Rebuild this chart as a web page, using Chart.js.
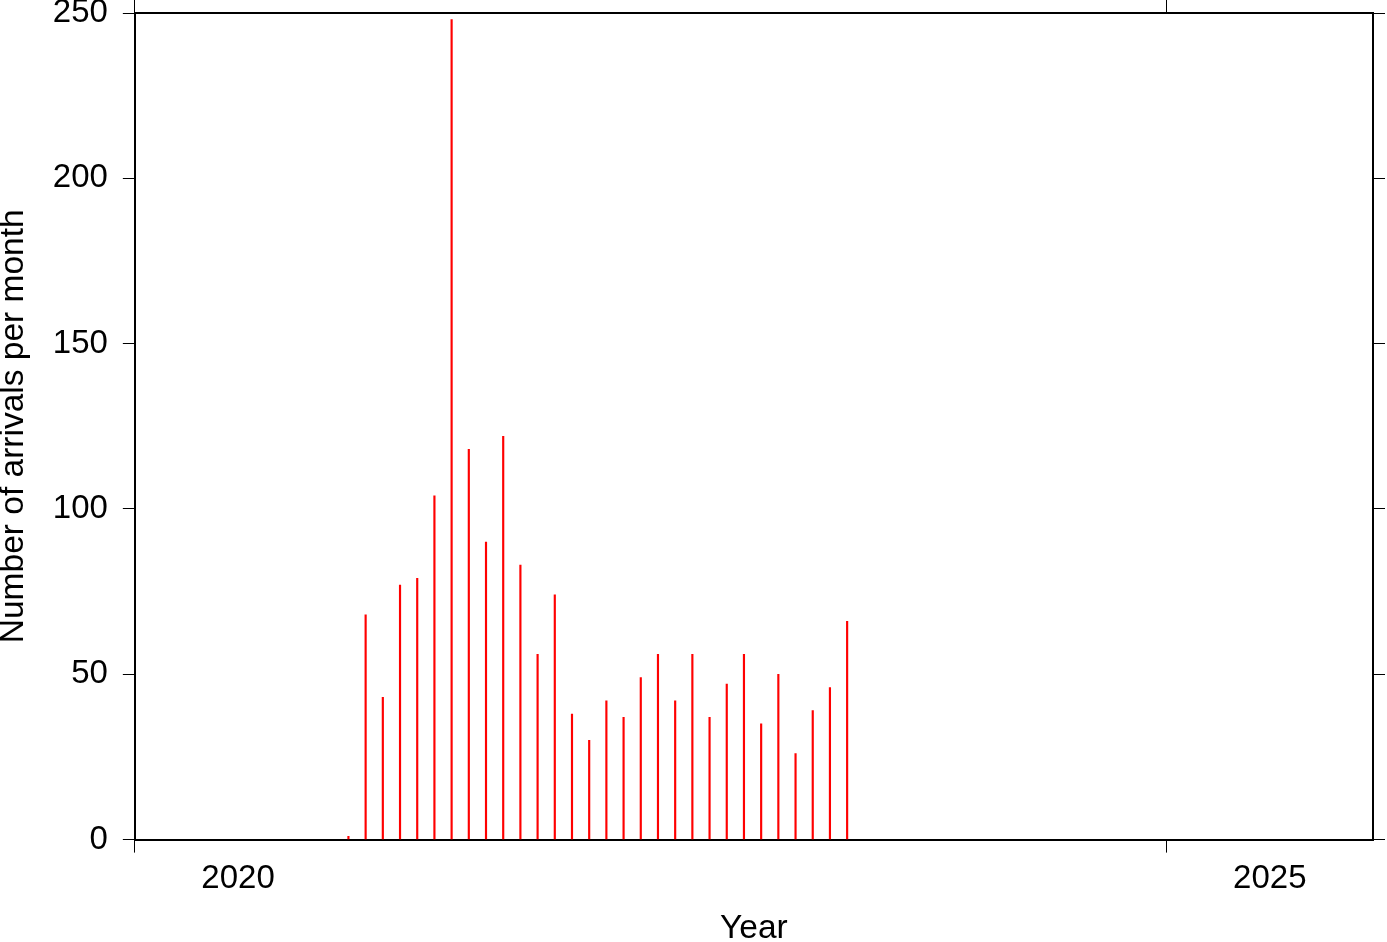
<!DOCTYPE html>
<html>
<head>
<meta charset="utf-8">
<script src="https://cdn.jsdelivr.net/npm/chart.js@4.4.1/dist/chart.umd.min.js"></script>
<style>
  html, body { margin: 0; padding: 0; background: #fff; }
  #wrap { width: 1387px; height: 942px; }
</style>
</head>
<body>
<div id="wrap"><canvas id="arrivals"></canvas></div>
<script>
// Mois (AAAA-MM) et nombre d'arrivées
const months = [
  '2021-01', '2021-02', '2021-03', '2021-04', '2021-05', '2021-06',
  '2021-07', '2021-08', '2021-09', '2021-10', '2021-11', '2021-12',
  '2022-01', '2022-02', '2022-03', '2022-04', '2022-05', '2022-06',
  '2022-07', '2022-08', '2022-09', '2022-10', '2022-11', '2022-12',
  '2023-01', '2023-02', '2023-03', '2023-04', '2023-05', '2023-06'
];
const arrivals = [
  1, 68, 43, 77, 79, 104,
  248, 118, 90, 122, 83, 56,
  74, 38, 30, 42, 37, 49,
  56, 42, 56, 37, 47, 56,
  35, 50, 26, 39, 46, 66
];
const yearTicks = [2020, 2025];   // traits de graduation
const yearLabels = [2020, 2025];  // libellés, centrés sur l'année
const yTicks = [0, 50, 100, 150, 200, 250];

const FONT = "'Liberation Sans', Helvetica, Arial, sans-serif";

// mois -> année décimale (barre vers le milieu du mois)
function toYear(m) {
  const [y, mo] = m.split('-').map(Number);
  return y + (mo - 1 + 0.42) / 12;
}
const points = months.map((m, i) => ({ x: toYear(m), y: arrivals[i] }));

const xTickValues = yearTicks.concat(yearLabels.map(y => y + 0.5)).sort((a, b) => a - b);

const tickMark = ctx => (ctx.tick && Number.isInteger(ctx.tick.value)) ? '#000' : 'rgba(0,0,0,0)';

// pas de marge verticale ajoutée par les libellés de l'axe y
const noPad = s => { s.paddingTop = 0; s.paddingBottom = 0; };

new Chart(document.getElementById('arrivals'), {
  type: 'bar',
  data: {
    datasets: [{
      data: points,
      backgroundColor: '#ff0000',
      borderWidth: 0,
      barThickness: 1.5
    }]
  },
  options: {
    responsive: true,
    maintainAspectRatio: false,
    animation: false,
    layout: { padding: { left: 0, right: 2, top: 0, bottom: 0 } },
    plugins: { legend: { display: false }, tooltip: { enabled: false } },
    scales: {
      x: {
        type: 'linear',
        position: 'bottom',
        min: 2020,
        max: 2026,
        offset: false,
        afterBuildTicks: s => { s.ticks = xTickValues.map(v => ({ value: v })); },
        ticks: {
          autoSkip: false,
          maxRotation: 0,
          padding: 7,
          color: '#000',
          font: { family: FONT, size: 33, lineHeight: 1.2 },
          callback: v => Number.isInteger(v) ? '' : String(Math.floor(v))
        },
        grid: { offset: false, drawOnChartArea: false, drawTicks: true, tickLength: 13, tickColor: tickMark, lineWidth: 1 },
        border: { display: true, color: '#000', width: 2 },
        title: {
          display: true,
          text: 'Year',
          color: '#000',
          font: { family: FONT, size: 33.5, lineHeight: 0.8 },
          padding: { top: 9, bottom: 0 }
        }
      },
      x2: {
        type: 'linear',
        position: 'top',
        min: 2020,
        max: 2026,
        offset: false,
        afterBuildTicks: s => { s.ticks = yearTicks.map(v => ({ value: v })); },
        ticks: { display: false },
        grid: { offset: false, drawOnChartArea: false, drawTicks: true, tickLength: 13, tickColor: '#000', lineWidth: 1 },
        border: { display: true, color: '#000', width: 2 }
      },
      y: {
        position: 'left',
        min: 0,
        max: 250,
        afterBuildTicks: s => { s.ticks = yTicks.map(v => ({ value: v })); },
        afterFit: noPad,
        ticks: {
          padding: 15,
          color: '#000',
          font: { family: FONT, size: 33, lineHeight: 0.8 }
        },
        grid: { drawOnChartArea: false, drawTicks: true, tickLength: 12, tickColor: '#000', lineWidth: 1 },
        border: { display: true, color: '#000', width: 2 },
        title: {
          display: true,
          text: 'Number of arrivals per month',
          color: '#000',
          font: { family: FONT, size: 33.5, lineHeight: 0.8 },
          padding: { top: 0, bottom: 11 }
        }
      },
      y2: {
        position: 'right',
        min: 0,
        max: 250,
        afterBuildTicks: s => { s.ticks = yTicks.map(v => ({ value: v })); },
        afterFit: noPad,
        ticks: { display: false },
        grid: { drawOnChartArea: false, drawTicks: true, tickLength: 12, tickColor: '#000', lineWidth: 1 },
        border: { display: true, color: '#000', width: 2 }
      }
    }
  }
});
</script>
</body>
</html>
